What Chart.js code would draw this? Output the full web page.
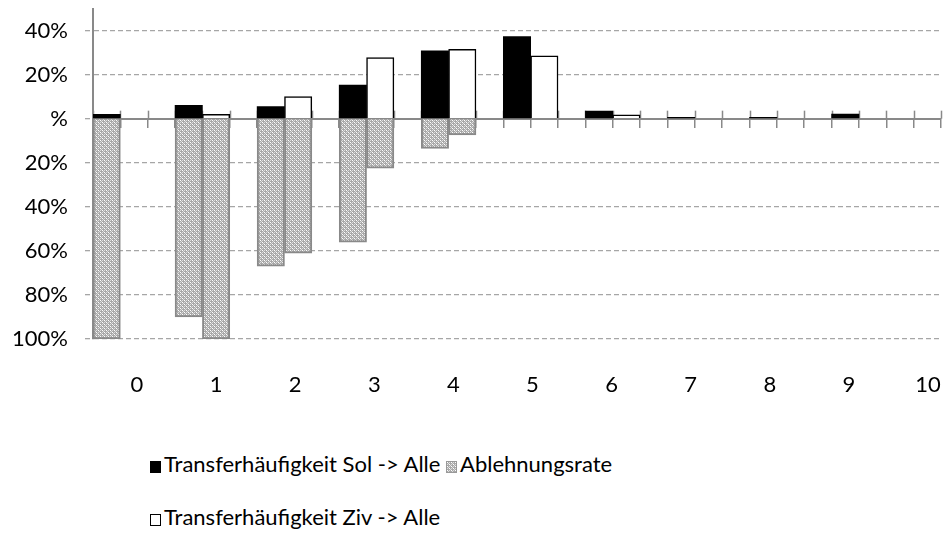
<!DOCTYPE html>
<html>
<head>
<meta charset="utf-8">
<script src="https://cdn.jsdelivr.net/npm/chart.js@4.4.1/dist/chart.umd.min.js"></script>
<style>
  body { margin: 0; background: #fff; }
  #wrap { position: relative; width: 944px; height: 533px; }
  #legend { position: absolute; left: 0; top: 0; font-family: Lato, sans-serif; font-size: 22px; color: #000; }
  .row { position: absolute; left: 150px; height: 26px; line-height: 26px; white-space: nowrap; }
  .sw { display: inline-block; width: 11px; height: 12px; vertical-align: -1px; box-sizing: border-box; margin-right: 3px; }
</style>
</head>
<body>
<div id="wrap">
  <canvas id="chart" width="944" height="440"></canvas>
  <div id="legend">
    <div class="row" style="top:451px">
      <span class="sw" style="background:#000"></span>Transferhäufigkeit Sol -&gt; Alle
      <span class="sw" id="swHatch" style="border:1px solid #999;margin-left:0px"></span>Ablehnungsrate
    </div>
    <div class="row" style="top:504px">
      <span class="sw" style="background:#fff;border:1px solid #000"></span>Transferhäufigkeit Ziv -&gt; Alle
    </div>
  </div>
</div>
<script>
// Werte je Gruppe (0..10), in Prozent
const gruppen = ["0", "1", "2", "3", "4", "5", "6", "7", "8", "9", "10"];
const transferSol = [2, 6, 5.5, 15.3, 30.8, 37.3, 3.5, 0.6, 0.6, 2.1, 0];
const transferZiv = [0, 2, 10, 27.7, 31.5, 28.5, 1.7, 0, 0, 0, 0];
const ablehnungSol = [100, 90, 67, 56, 13.5, 0, 0, 0, 0, 0, 0];
const ablehnungZiv = [0, 100, 61, 22.5, 7.4, 0, 0, 0, 0, 0, 0];
const yTicks = [-100, -80, -60, -40, -20, 0, 20, 40];

// jede Gruppe belegt 3 Plaetze: Sol, Ziv, Luecke
const anzahlPlaetze = gruppen.length * 3 - 2;
const plaetze = [];
const datenSol = [], datenZiv = [], datenAbl = [];
for (let i = 0; i < anzahlPlaetze; i++) {
  plaetze.push(String(i));
  datenSol.push(null); datenZiv.push(null); datenAbl.push(null);
}
const nz = (v) => (v ? v : null);
gruppen.forEach((g, k) => {
  datenSol[3 * k] = nz(transferSol[k]);
  datenAbl[3 * k] = nz(-ablehnungSol[k]);
  if (3 * k + 1 < anzahlPlaetze) {
    datenZiv[3 * k + 1] = nz(transferZiv[k]);
    datenAbl[3 * k + 1] = nz(-ablehnungZiv[k]);
  }
});

// Schraffur
const makePattern = () => {
  const c = document.createElement("canvas");
  c.width = 4; c.height = 4;
  const g = c.getContext("2d");
  g.fillStyle = "#a8a8a8"; g.fillRect(0, 0, 4, 4);
  g.fillStyle = "#ffffff";
  g.fillRect(0, 0, 1, 1); g.fillRect(2, 2, 1, 1);
  g.fillStyle = "#dcdcdc";
  g.fillRect(1, 1, 1, 1); g.fillRect(3, 3, 1, 1);
  g.fillRect(2, 0, 1, 1); g.fillRect(0, 2, 1, 1);
  return c;
};
const patCanvas = makePattern();
const ctx = document.getElementById("chart").getContext("2d");
const hatch = ctx.createPattern(patCanvas, "repeat");
document.getElementById("swHatch").style.background = "url(" + patCanvas.toDataURL() + ")";

const grau = "#898989";

// Striche oberhalb der Nulllinie
const nullStriche = {
  id: "nullStriche",
  beforeDatasetsDraw(chart) {
    const x = chart.scales.x, y = chart.scales.y;
    const y0 = y.getPixelForValue(0);
    const c = chart.ctx;
    c.save();
    c.strokeStyle = grau; c.lineWidth = 1.5;
    const n = x.ticks.length;
    for (let i = 0; i <= n; i++) {
      const px = Math.round(x.left + (i * x.width) / n) + 0.5;
      c.beginPath(); c.moveTo(px, y0 - 8); c.lineTo(px, y0); c.stroke();
    }
    c.restore();
  },
};

const x2min = -(137 - 93) / 848 * (10 * 848 / 791);
const x2max = x2min + 10 * 848 / 791;

new Chart(ctx, {
  type: "bar",
  data: {
    labels: plaetze,
    datasets: [
      { label: "Transferhäufigkeit Sol -> Alle", data: datenSol, backgroundColor: "#000", borderWidth: 0 },
      { label: "Ablehnungsrate", data: datenAbl, backgroundColor: hatch, borderColor: grau, borderWidth: 2 },
      { label: "Transferhäufigkeit Ziv -> Alle", data: datenZiv, backgroundColor: "#fff", borderColor: "#000", borderWidth: 1.5 },
    ],
  },
  options: {
    responsive: false,
    animation: false,
    barPercentage: 1,
    categoryPercentage: 1,
    layout: { padding: { top: 8.5, right: 3, left: 0, bottom: 0 } },
    plugins: { legend: { display: false }, tooltip: { enabled: false } },
    scales: {
      x: {
        stacked: true,
        position: { y: 0 },
        ticks: { display: false },
        grid: { display: true, drawOnChartArea: false, tickLength: 8, color: grau, lineWidth: 1.5, offset: true },
        border: { display: true, color: grau, width: 2 },
      },
      x2: {
        type: "linear",
        position: "bottom",
        offset: false,
        min: x2min,
        max: x2max,
        grid: { display: false, offset: false },
        border: { display: false },
        afterBuildTicks: (s) => { s.ticks = gruppen.map((g, i) => ({ value: i })); },
        afterFit: (s) => { s.height = 101; s.paddingLeft = 0; s.paddingRight = 0; },
        ticks: {
          padding: 25,
          maxRotation: 0,
          autoSkip: false,
          color: "#000",
          font: { family: "Lato", size: 22 },
          callback: (v) => gruppen[v],
        },
      },
      y: {
        stacked: true,
        min: -100,
        max: 50,
        afterBuildTicks: (s) => { s.ticks = yTicks.map((v) => ({ value: v })); },
        afterFit: (s) => { s.width = 93; s.paddingTop = 0; s.paddingBottom = 0; },
        ticks: {
          padding: 17,
          color: "#000",
          font: { family: "Lato", size: 22 },
          callback: (v) => (v === 0 ? "%" : Math.abs(v) + "%"),
        },
        grid: { color: "#a6a6a6", lineWidth: 1.3, tickLength: 8, tickBorderDash: [5, 3] },
        border: { display: true, color: grau, width: 2, dash: [5, 3] },
      },
    },
  },
  plugins: [nullStriche],
});
</script>
</body>
</html>
